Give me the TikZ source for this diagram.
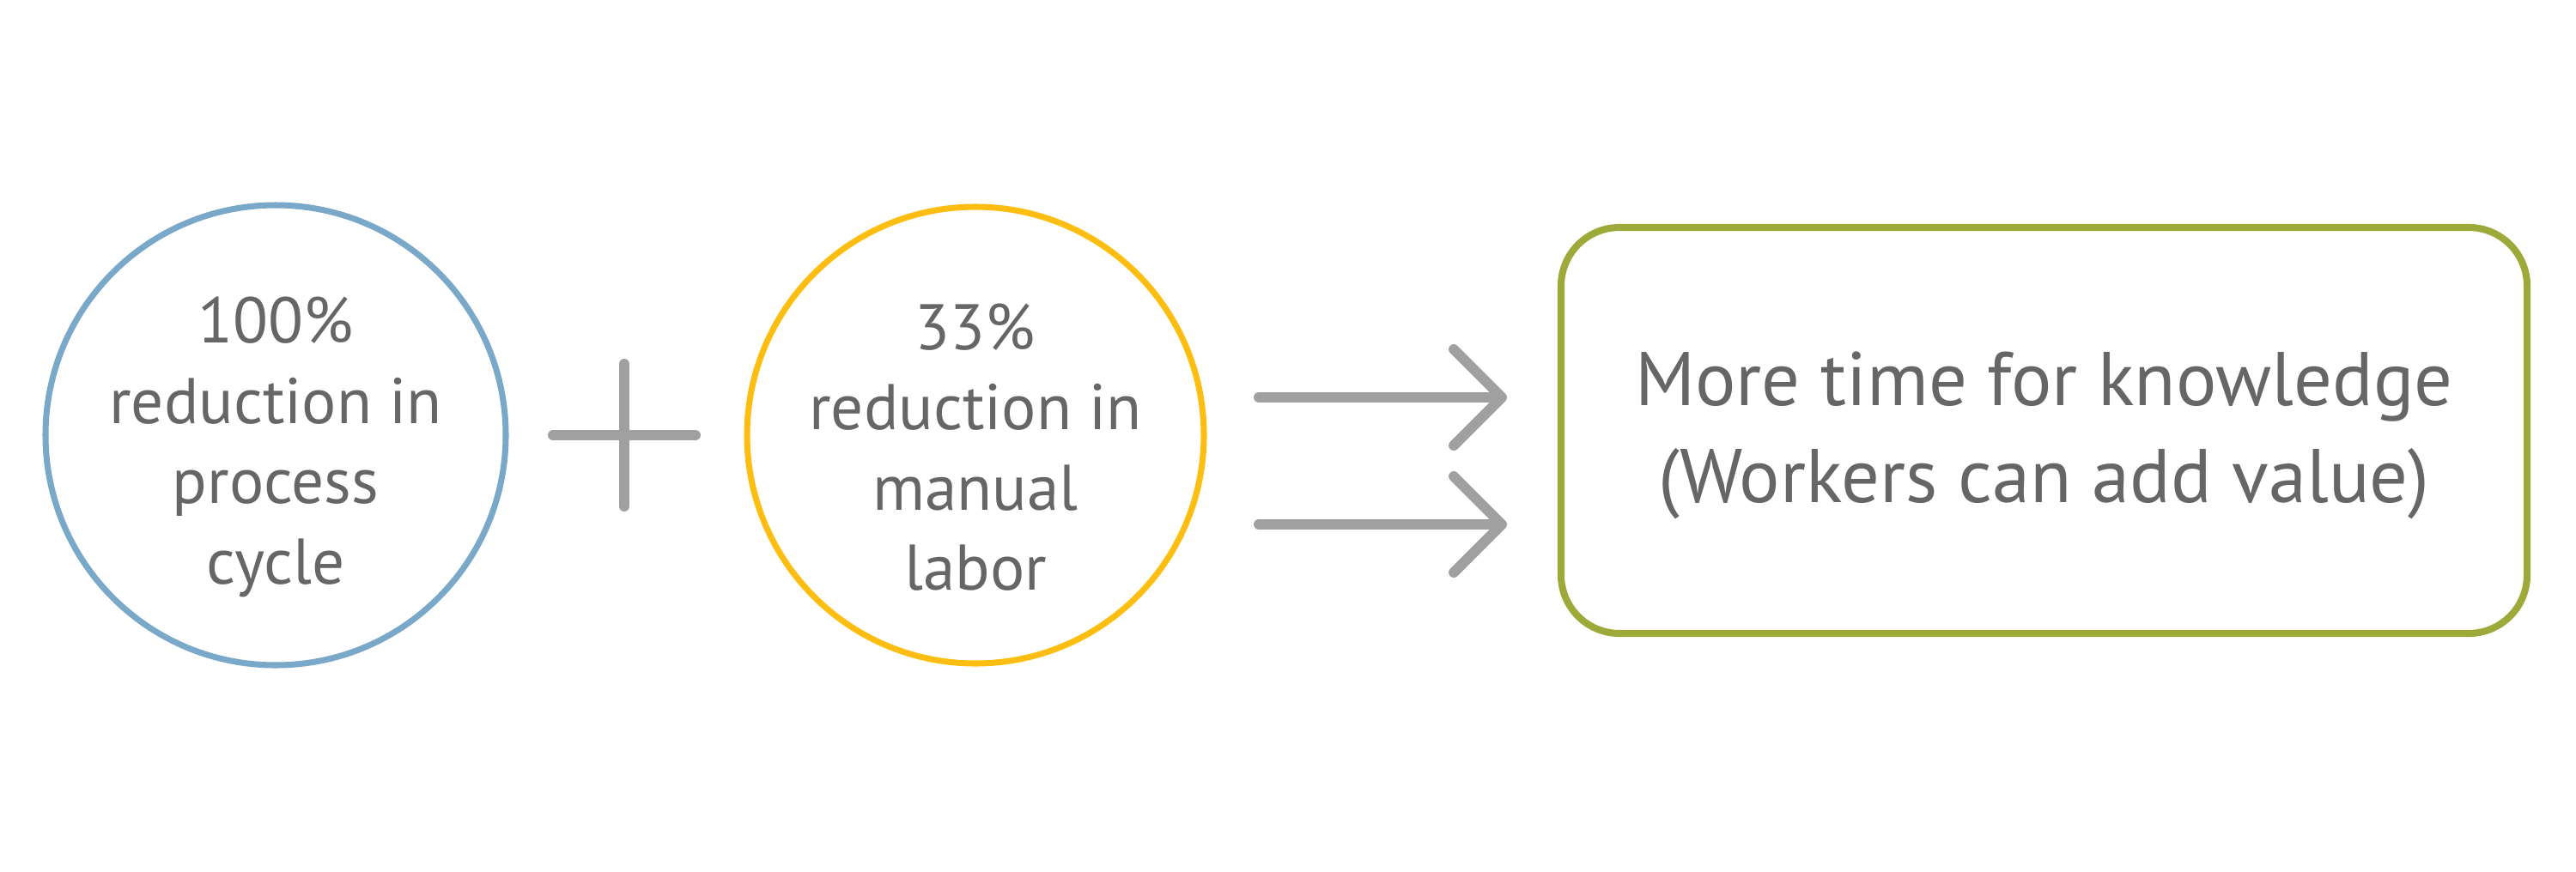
\documentclass[tikz,border=0pt]{standalone}
\usepackage{fontspec}
\setmainfont{PT Sans}
\usetikzlibrary{arrows.meta}
\definecolor{cycleblue}{RGB}{122,168,200}
\definecolor{laboryellow}{RGB}{253,190,17}
\definecolor{valuegreen}{RGB}{157,170,58}
\definecolor{linegray}{RGB}{160,160,160}
\definecolor{textgray}{RGB}{102,102,102}
\tikzset{
  circtext/.style={text=textgray, align=center,
    font=\fontsize{21.4}{26.6}\selectfont},
  boxtext/.style={text=textgray, align=center,
    font=\fontsize{25.2}{32}\selectfont},
  graybar/.style={draw=linegray, line width=3.4pt, line cap=round},
  thenarrow/.style={graybar, line join=round,
    -{Straight Barb[length=5.6mm, width=11.2mm, line cap=round, line join=round]}}
}
\begin{document}
\begin{tikzpicture}
    \useasboundingbox (0,0) rectangle (30,10.15);
    \draw [cycleblue, line width=2pt] (3.21,5.08) circle (2.68);
    \draw [laboryellow, line width=2pt] (11.36,5.08) circle (2.66);
    \node (cycle) [circtext] at (3.21,4.94) {100\%\\reduction in\\process\\cycle};
    \node (labor) [circtext] at (11.36,4.94) {33\%\\reduction in\\manual\\labor};
    % plus sign
    \coordinate (plus) at (7.27,5.08);
    \draw [graybar] ([xshift=-8.3mm]plus) -- ([xshift=8.3mm]plus)
        ([yshift=-8.3mm]plus) -- ([yshift=8.3mm]plus);
    % result box
    \node (value) [draw=valuegreen, line width=2.3pt, rounded corners=6.8mm,
        minimum width=11.25cm, minimum height=4.73cm]
        at (23.805,5.135) {};
    \node (valuetext) [boxtext] at ([yshift=-0.6mm]value.center)
        {More time for knowledge\\(Workers can add value)};
    \coordinate (a1s) at (14.66,5.52);
    \coordinate (a1e) at (17.55,5.52);
    \coordinate (a2s) at (14.66,4.04);
    \coordinate (a2e) at (17.55,4.04);
    \draw [thenarrow] (a1s) -- (a1e);
    \draw [thenarrow] (a2s) -- (a2e);
\end{tikzpicture}
\end{document}
